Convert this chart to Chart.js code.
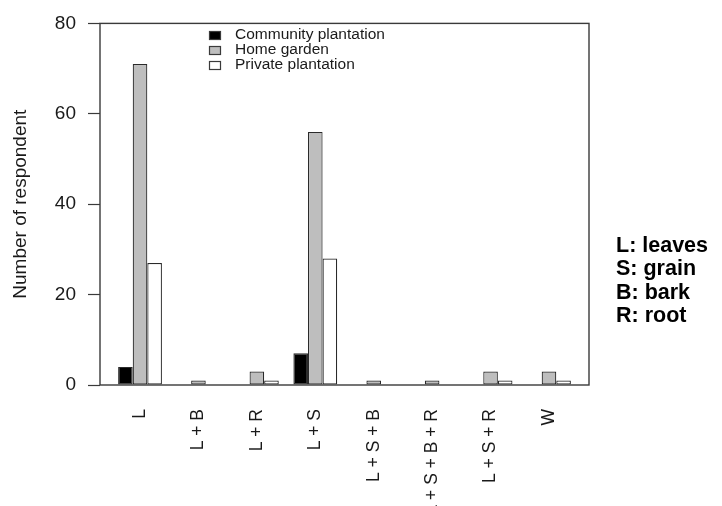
<!DOCTYPE html>
<html>
<head>
<meta charset="utf-8">
<script src="https://cdn.jsdelivr.net/npm/chart.js@4/dist/chart.umd.min.js"></script>
<style>
  html, body { margin: 0; padding: 0; background: #ffffff; }
  #wrap { width: 722px; height: 506px; }
</style>
</head>
<body>
<div id="wrap"><canvas id="chart" width="722" height="506"></canvas></div>
<script>
// Plant parts used, grouped by where the respondents harvest them
const categories = ['L', 'L + B', 'L + R', 'L + S', 'L + S + B', 'L + S + B + R', 'L + S + R', 'W'];
const seriesNames = ['Community plantation', 'Home garden', 'Private plantation'];
const community = [4, 0, 0, 7, 0, 0, 0, 0];
const homeGarden = [71, 1, 3, 56, 1, 1, 3, 3];
const privatePlantation = [27, 0, 1, 28, 0, 0, 1, 1];
const yTicks = [0, 20, 40, 60, 80];
const abbreviations = ['L: leaves', 'S: grain', 'B: bark', 'R: root'];

const FONT = '"Liberation Sans", Arial, Helvetica, sans-serif';
const INK = '#1a1a1a';
const LINE = '#3a3a3a';

function points(values) {
  return values.map((v, i) => ({ x: i, y: v }));
}

// Box around the plotting region
const frame = {
  id: 'frame',
  afterDatasetsDraw(chart) {
    const { ctx, chartArea: a } = chart;
    ctx.save();
    ctx.strokeStyle = LINE;
    ctx.lineWidth = 1.4;
    ctx.strokeRect(a.left, a.top, a.right - a.left, a.bottom - a.top);
    ctx.restore();
  }
};

// Key for the three series, drawn inside the plot, plus the abbreviation list on the right
const keys = {
  id: 'keys',
  afterDraw(chart) {
    const { ctx } = chart;
    ctx.save();
    ctx.font = '15.5px ' + FONT;
    ctx.textBaseline = 'middle';
    ctx.textAlign = 'left';
    chart.data.datasets.forEach((ds, i) => {
      const y = 35 + i * 15;
      ctx.fillStyle = ds.backgroundColor;
      ctx.fillRect(209.5, y - 3.5, 11, 8);
      ctx.strokeStyle = LINE;
      ctx.lineWidth = 1.2;
      ctx.strokeRect(209.5, y - 3.5, 11, 8);
      ctx.fillStyle = INK;
      ctx.fillText(ds.label, 235, y);
    });
    ctx.font = 'bold 21.5px ' + FONT;
    abbreviations.forEach((t, i) => {
      ctx.fillStyle = '#000';
      ctx.fillText(t, 616, 246 + i * 23.4);
    });
    ctx.restore();
  }
};

const barStyle = {
  borderColor: '#2a2a2a',
  borderWidth: 1.2,
  borderSkipped: false,
  barPercentage: 1,
  categoryPercentage: 0.75
};

new Chart(document.getElementById('chart'), {
  type: 'bar',
  data: {
    datasets: [
      Object.assign({ label: seriesNames[0], data: points(community), backgroundColor: '#000000' }, barStyle),
      Object.assign({ label: seriesNames[1], data: points(homeGarden), backgroundColor: '#bebebe' }, barStyle),
      Object.assign({ label: seriesNames[2], data: points(privatePlantation), backgroundColor: '#ffffff' }, barStyle)
    ]
  },
  options: {
    responsive: false,
    animation: false,
    devicePixelRatio: 1,
    layout: { padding: { top: 12, right: 133, left: 0, bottom: 0 } },
    plugins: {
      legend: { display: false },
      tooltip: { enabled: false }
    },
    scales: {
      x: {
        type: 'linear',
        offset: false,
        min: -0.685,
        max: categories.length - 1 + 0.685,
        grid: { display: false, drawTicks: false, offset: false },
        border: { display: false },
        afterBuildTicks: (scale) => {
          scale.ticks = categories.map((_, i) => ({ value: i }));
        },
        ticks: {
          autoSkip: false,
          minRotation: 90,
          maxRotation: 90,
          padding: 24,
          color: INK,
          font: { family: FONT, size: 17.5 },
          callback: (v) => categories[v] ?? ''
        },
        afterFit: (scale) => { scale.height = 121; }
      },
      y: {
        min: 0,
        max: 80,
        afterBuildTicks: (scale) => {
          scale.ticks = yTicks.map(v => ({ value: v }));
        },
        grid: { drawOnChartArea: false, drawTicks: true, tickLength: 12, tickColor: LINE, tickWidth: 1.2 },
        border: { display: false },
        ticks: {
          padding: 12,
          color: INK,
          font: { family: FONT, size: 19 }
        },
        title: {
          display: true,
          text: 'Number of respondent',
          color: INK,
          font: { family: FONT, size: 19 },
          padding: { top: 9, bottom: 0 }
        },
        afterFit: (scale) => { scale.width = 100; }
      }
    }
  },
  plugins: [frame, keys]
});
</script>
</body>
</html>
